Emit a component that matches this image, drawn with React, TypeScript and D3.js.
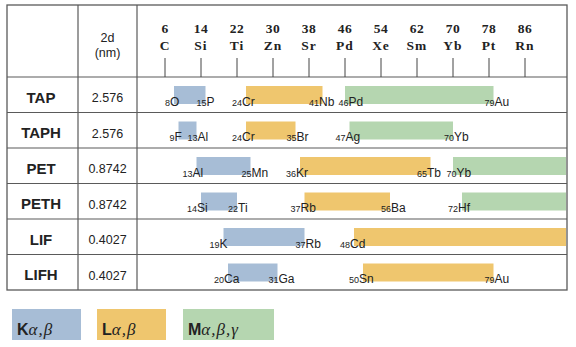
import React from "react";
import * as d3 from "d3";

const crystals = ["TAP", "TAPH", "PET", "PETH", "LIF", "LIFH"];
const twoD = ["2.576", "2.576", "0.8742", "0.8742", "0.4027", "0.4027"];
const tickZ = [6, 14, 22, 30, 38, 46, 54, 62, 70, 78, 86];
const tickSym = ["C", "Si", "Ti", "Zn", "Sr", "Pd", "Xe", "Sm", "Yb", "Pt", "Rn"];

// to = null means the range continues past the right edge of the table
const kBands = [
  { crystal: "TAP", from: 8, fromSym: "O", to: 15, toSym: "P" },
  { crystal: "TAPH", from: 9, fromSym: "F", to: 13, toSym: "Al" },
  { crystal: "PET", from: 13, fromSym: "Al", to: 25, toSym: "Mn" },
  { crystal: "PETH", from: 14, fromSym: "Si", to: 22, toSym: "Ti" },
  { crystal: "LIF", from: 19, fromSym: "K", to: 37, toSym: "Rb" },
  { crystal: "LIFH", from: 20, fromSym: "Ca", to: 31, toSym: "Ga" },
];
const lBands = [
  { crystal: "TAP", from: 24, fromSym: "Cr", to: 41, toSym: "Nb" },
  { crystal: "TAPH", from: 24, fromSym: "Cr", to: 35, toSym: "Br" },
  { crystal: "PET", from: 36, fromSym: "Kr", to: 65, toSym: "Tb" },
  { crystal: "PETH", from: 37, fromSym: "Rb", to: 56, toSym: "Ba" },
  { crystal: "LIF", from: 48, fromSym: "Cd", to: null, toSym: "" },
  { crystal: "LIFH", from: 50, fromSym: "Sn", to: 79, toSym: "Au" },
];
const mBands = [
  { crystal: "TAP", from: 46, fromSym: "Pd", to: 79, toSym: "Au" },
  { crystal: "TAPH", from: 47, fromSym: "Ag", to: 70, toSym: "Yb" },
  { crystal: "PET", from: 70, fromSym: "Yb", to: null, toSym: "" },
  { crystal: "PETH", from: 72, fromSym: "Hf", to: null, toSym: "" },
];

const series = [
  { key: "K", color: "#a7bdd6", bands: kBands, label: "K", greek: "α,β" },
  { key: "L", color: "#efc66e", bands: lBands, label: "L", greek: "α,β" },
  { key: "M", color: "#b5d6b0", bands: mBands, label: "M", greek: "α,β,γ" },
];

const W = 576;
const H = 347;
const tableL = 7, tableR = 567, tableT = 5, tableB = 290;
const col1 = 78, col2 = 137;
const headerB = 77;
const lineColor = "#5a5a5a";
const textColor = "#222";
const sans = "'Liberation Sans', Arial, sans-serif";
const serif = "'Liberation Serif', 'Times New Roman', serif";

export default function App() {
  const x = d3.scaleLinear().domain([6, 86]).range([165, 525]);
  const y = d3.scaleBand<string>().domain(crystals).range([headerB, tableB]);
  const edgeZ = x.invert(tableR - 1);

  // Flatten bands and detect tight neighbours within a row
  const all = series.flatMap((s) => s.bands.map((b) => ({ ...b, color: s.color, key: s.key })));
  const tight = (b: any) => {
    const x0 = x(b.from);
    return !!all.find((o) => o.crystal === b.crystal && o.to != null && o.to < b.from && x0 - x(o.to) < 30);
  };
  const tightEnd = (b: any) => {
    if (b.to == null) return false;
    const x1 = x(b.to);
    return !!all.find((o) => o.crystal === b.crystal && o.from > b.to && x(o.from) - x1 < 30);
  };

  const legendBoxes = [
    { x0: 12, x1: 81 },
    { x0: 97, x1: 166 },
    { x0: 183, x1: 274 },
  ];

  return (
    <svg width={W} height={H} style={{ position: "absolute", left: 0, top: 0, background: "#fff" }}>
      {/* bands */}
      {all.map((b, i) => {
        const top = y(b.crystal)!;
        const x0 = x(b.from);
        const x1 = x(b.to == null ? edgeZ : b.to);
        const base = top + 28.5;
        const sx = tight(b) ? x0 + 3.5 : x0 - 4;
        const ex = tightEnd(b) ? x1 - 3.5 : x1 + 1;
        return (
          <g key={b.key + i}>
            <rect x={x0} y={top + 9} width={x1 - x0} height={18} fill={b.color} />
            <text x={sx} y={base} textAnchor="end" fontFamily={sans} fontSize={9} fill={textColor}>
              {b.from}
            </text>
            <text x={sx} y={base} fontFamily={sans} fontSize={12} fill={textColor}>
              {b.fromSym}
            </text>
            {b.to != null && (
              <>
                <text x={ex} y={base} textAnchor="end" fontFamily={sans} fontSize={9} fill={textColor}>
                  {b.to}
                </text>
                <text x={ex} y={base} fontFamily={sans} fontSize={12} fill={textColor}>
                  {b.toSym}
                </text>
              </>
            )}
          </g>
        );
      })}

      {/* table lines */}
      <rect x={tableL} y={tableT} width={tableR - tableL} height={tableB - tableT} fill="none" stroke={lineColor} strokeWidth={1.3} />
      <line x1={col1} x2={col1} y1={tableT} y2={tableB} stroke={lineColor} strokeWidth={1.2} />
      <line x1={col2} x2={col2} y1={tableT} y2={tableB} stroke={lineColor} strokeWidth={1.2} />
      {crystals.map((c) => (
        <line key={"h" + c} x1={tableL} x2={tableR} y1={y(c)!} y2={y(c)!} stroke={lineColor} strokeWidth={1.2} />
      ))}

      {/* header */}
      <text x={(col1 + col2) / 2} y={41.5} textAnchor="middle" fontFamily={sans} fontSize={12.5} fill={textColor}>2d</text>
      <text x={(col1 + col2) / 2} y={57} textAnchor="middle" fontFamily={sans} fontSize={12.5} fill={textColor}>(nm)</text>
      {tickZ.map((z, i) => (
        <g key={"t" + z}>
          <text x={x(z)} y={33} textAnchor="middle" fontFamily={serif} fontWeight="bold" fontSize={13.5} fill={textColor} letterSpacing={0.5}>
            {z}
          </text>
          <text x={x(z)} y={50} textAnchor="middle" fontFamily={serif} fontWeight="bold" fontSize={13.5} fill={textColor} letterSpacing={1}>
            {tickSym[i]}
          </text>
          <line x1={x(z)} x2={x(z)} y1={58} y2={headerB} stroke="#444" strokeWidth={1} />
        </g>
      ))}

      {/* row labels */}
      {crystals.map((c, i) => (
        <g key={"r" + c}>
          <text x={41} y={y(c)! + 25.5} textAnchor="middle" fontFamily={sans} fontWeight="bold" fontSize={15} fill={textColor}>
            {c}
          </text>
          <text x={(col1 + col2) / 2} y={y(c)! + 25} textAnchor="middle" fontFamily={sans} fontSize={12.5} fill={textColor}>
            {twoD[i]}
          </text>
        </g>
      ))}

      {/* legend */}
      {series.map((s, i) => (
        <g key={"lg" + s.key}>
          <rect x={legendBoxes[i].x0} y={309} width={legendBoxes[i].x1 - legendBoxes[i].x0} height={31} fill={s.color} />
          <text x={legendBoxes[i].x0 + 5} y={335} fill={textColor}>
            <tspan fontFamily={sans} fontWeight="bold" fontSize={16}>{s.label}</tspan>
            <tspan fontFamily={serif} fontStyle="italic" fontSize={17} letterSpacing={1}>{s.greek}</tspan>
          </text>
        </g>
      ))}
    </svg>
  );
}
